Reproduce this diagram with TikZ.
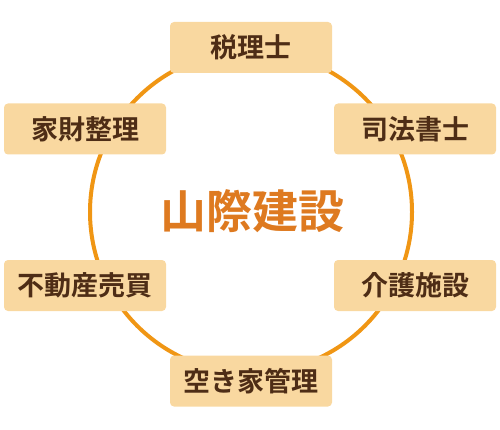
\documentclass[tikz,border=0pt]{standalone}
\usepackage{fontspec}
\setmainfont{Noto Sans CJK JP}[BoldFont={Noto Sans CJK JP Bold}]
\usetikzlibrary{positioning}
\definecolor{ringOrange}{RGB}{240,150,20}
\definecolor{titleOrange}{RGB}{222,122,32}
\definecolor{tagFill}{RGB}{249,216,160}
\definecolor{tagText}{RGB}{78,45,22}
\tikzset{
  field tag/.style={fill=tagFill,rounded corners=4pt,align=center,text=tagText,font=\fontsize{27}{29}\selectfont\bfseries,minimum width=162pt,minimum height=51pt,inner sep=0pt},
  ring line/.style={draw=ringOrange,line width=4pt},
  company title/.style={text=titleOrange,font=\fontsize{46}{50}\selectfont\bfseries,inner sep=0pt}
}
\begin{document}
\begin{tikzpicture}[x=1pt,y=-1pt]
      \useasboundingbox (0,0) rectangle (500,430);
      \coordinate (hub) at (251,212);
      \draw[ring line] (hub) circle[radius=161pt];
      \node[company title] (company) at (252,211) {山際建設};
      \node[field tag] (tax) at (251,47.5) {税理士};
      \node[field tag] (scrivener) at (415,129) {司法書士};
      \node[field tag] (care) at (415,285.5) {介護施設};
      \node[field tag] (vacant) at (251,381) {空き家管理};
      \node[field tag] (realty) at (85,285.5) {不動産売買};
      \node[field tag] (estate) at (85,129) {家財整理};
    \end{tikzpicture}
\end{document}
